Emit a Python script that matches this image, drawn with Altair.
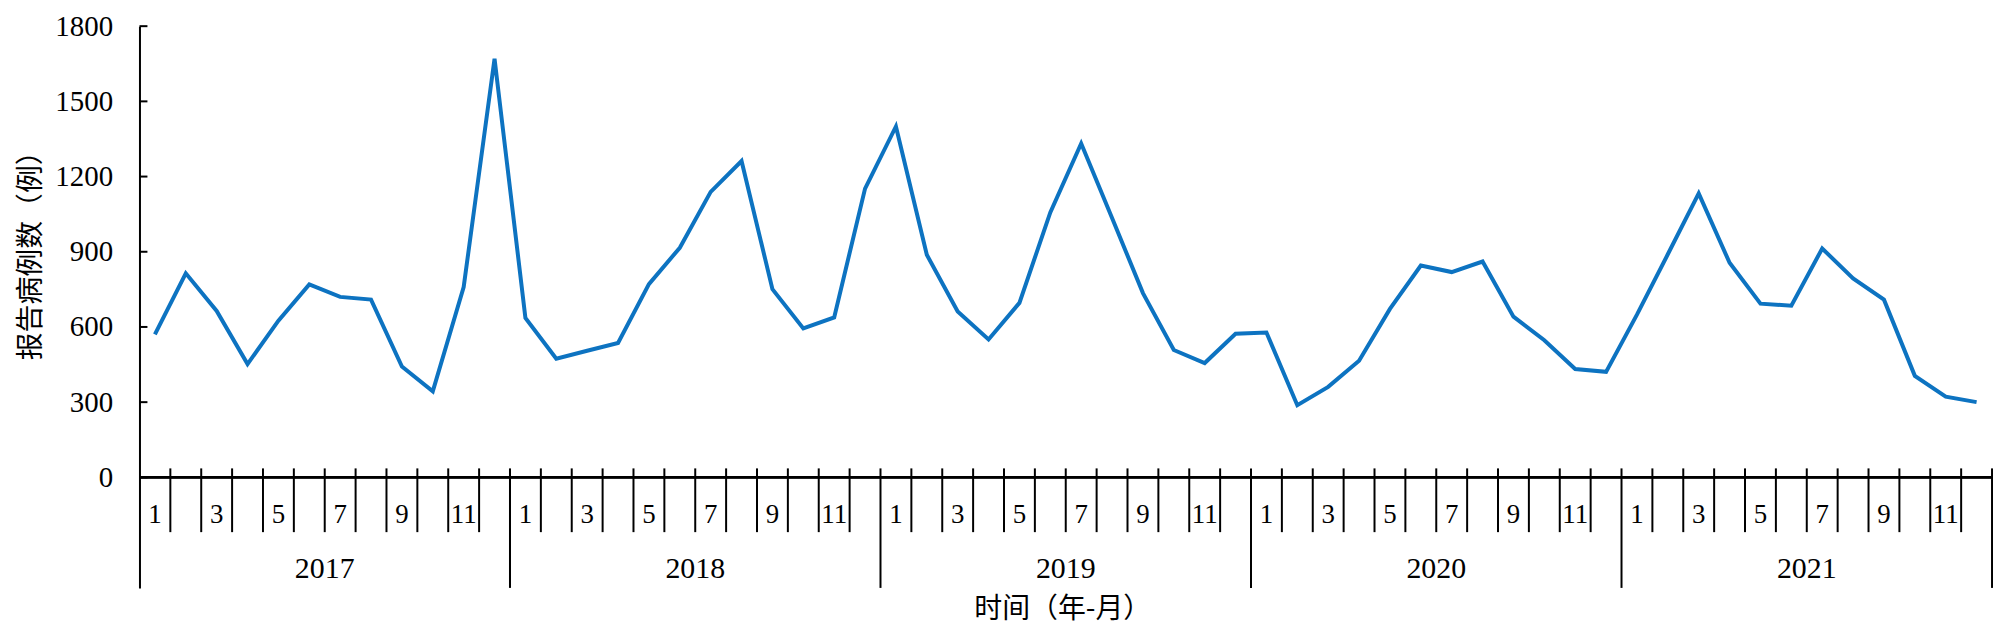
import altair as alt
import pandas as pd

years = [2017, 2018, 2019, 2020, 2021]
months = list(range(1, 13))
cases_2017 = [570, 814, 664, 452, 625, 770, 720, 709, 442, 343, 759, 1670]
cases_2018 = [636, 473, 505, 536, 771, 916, 1139, 1262, 751, 594, 638, 1152]
cases_2019 = [1400, 888, 662, 550, 696, 1057, 1332, 1035, 735, 508, 456, 573]
cases_2020 = [578, 288, 361, 465, 672, 845, 819, 861, 641, 547, 432, 421]
cases_2021 = [649, 890, 1133, 856, 693, 685, 913, 794, 709, 405, 322, 300]
y_ticks = [0, 300, 600, 900, 1200, 1500, 1800]
month_labels = [1, 3, 5, 7, 9, 11]

all_cases = [cases_2017, cases_2018, cases_2019, cases_2020, cases_2021]
rows = []
for yi, (yr, vals) in enumerate(zip(years, all_cases)):
    for mi, (m, v) in enumerate(zip(months, vals)):
        rows.append({"idx": yi * 12 + mi + 0.5, "year": yr, "month": m, "cases": v})
df = pd.DataFrame(rows)

n = len(df)
minor_b = pd.DataFrame({"b": [k for k in range(1, n) if k % 12 != 0]})
major_b = pd.DataFrame({"b": [k for k in range(12, n + 1, 12)]})
mlab = df[df["month"].isin(month_labels)].copy()
ylab = pd.DataFrame({"year": [str(y) for y in years],
                     "c": [i * 12 + 6 for i in range(len(years))]})
yt = pd.DataFrame({"v": y_ticks})

W, H = 1860, 564
xs = alt.Scale(domain=[0, n], nice=False, zero=False)
ys = alt.Scale(domain=[-441.1, 1800], nice=False, zero=False)
serif = "Liberation Serif"
cjk = "Noto Sans CJK SC"

line = alt.Chart(df).mark_line(color="#0d73c1", strokeWidth=4).encode(
    x=alt.X("idx:Q", scale=xs, axis=None),
    y=alt.Y("cases:Q", scale=ys,
            axis=alt.Axis(values=y_ticks, format="d", ticks=False, tickSize=0, grid=False,
                          domain=True, domainColor="black", domainWidth=2,
                          labelFont=serif, labelFontSize=29, labelColor="black",
                          labelPadding=27, title="报告病例数（例）",
                          titleFont=cjk, titleFontSize=28, titleFontWeight="normal",
                          titleColor="black", titleX=-108, titleY=223,
                          titleAlign="center", titleBaseline="middle", titleAngle=270)),
)

ytick_rules = alt.Chart(yt).mark_rule(color="black", strokeWidth=2).encode(
    y=alt.Y("v:Q", scale=ys), x=alt.value(0), x2=alt.value(8)
)

xaxis_line = alt.Chart(yt).mark_rule(color="black", strokeWidth=2).encode(
    y=alt.datum(0), x=alt.value(0), x2=alt.value(W)
)

minor_rules = alt.Chart(minor_b).mark_rule(color="black", strokeWidth=2).encode(
    x=alt.X("b:Q", scale=xs), y=alt.value(444), y2=alt.value(508)
)
major_rules = alt.Chart(major_b).mark_rule(color="black", strokeWidth=2).encode(
    x=alt.X("b:Q", scale=xs), y=alt.value(444), y2=alt.value(H)
)

month_text = alt.Chart(mlab).mark_text(font=serif, fontSize=27, color="black",
                                       align="center", baseline="middle").encode(
    x=alt.X("idx:Q", scale=xs), y=alt.value(491), text="month:N"
)
year_text = alt.Chart(ylab).mark_text(font=serif, fontSize=30, color="black",
                                      align="center", baseline="middle").encode(
    x=alt.X("c:Q", scale=xs), y=alt.value(545), text="year:N"
)
xtitle = alt.Chart(ylab.head(1)).mark_text(font=cjk, fontSize=28, color="black",
                                           align="center", baseline="middle",
                                           text="时间（年-月）").encode(
    x=alt.value(W / 2 - 3), y=alt.value(586)
)

chart = alt.layer(line, ytick_rules, xaxis_line, minor_rules, major_rules,
                  month_text, year_text, xtitle).properties(
    width=W, height=H,
    autosize=alt.AutoSizeParams(type="none"),
    padding={"left": 132, "top": 17, "right": 6, "bottom": 38},
    background="white",
).configure_view(stroke=None)

chart.save("out.html", embed_options={"renderer": "svg", "actions": False})
